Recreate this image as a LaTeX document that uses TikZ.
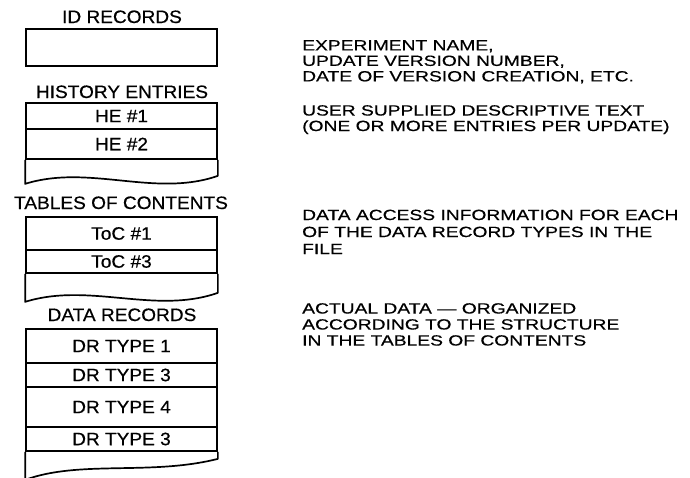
\documentclass[tikz,border=0pt]{standalone}
\usepackage{fontspec}
\setmainfont{Liberation Sans}
\newfontfamily\leftfont[FakeStretch=1.06,FakeBold=0.5]{Liberation Sans}
\newfontfamily\rightfont[FakeStretch=1.3,FakeBold=0.5]{Liberation Sans}
\usetikzlibrary{calc}
\begin{document}
\begin{tikzpicture}[x=1pt,y=-1pt,
  frame/.style={draw, line width=1.7pt, minimum width=191pt, inner sep=0pt,
    font=\leftfont\fontsize{18}{20}\selectfont},
  tail/.style={draw, line width=1.7pt, line join=round},
  title/.style={inner sep=0pt, anchor=base, font=\leftfont\fontsize{18}{20}\selectfont},
  desc/.style={inner sep=0pt, anchor=north west, align=left,
    font=\rightfont\fontsize{14.8}{15.5}\selectfont}]
\useasboundingbox (0,0) rectangle (690,477);

% ID records
\node[title] (tid) at (122,23) {ID RECORDS};
\node[frame, minimum height=37pt] (idrec) at (121.5,47.5) {};

% History entries
\node[title] (the) at (122,98) {HISTORY ENTRIES};
\node[frame, minimum height=26pt] (he1) at (121.5,116) {HE \#1};
\node[frame, minimum height=30pt] (he2) at (121.5,144) {HE \#2};
\path[tail] (he2.south west) -- ++(0,24)
  .. controls +(64,-20) and +(-63,22) .. ($(he2.south east)+(0,16)$)
  -- (he2.south east);

% Tables of contents
\node[title] (ttoc) at (121,209) {TABLES OF CONTENTS};
\node[frame, minimum height=33pt] (toc1) at (121.5,233.5) {ToC \#1};
\node[frame, minimum height=23pt] (toc3) at (121.5,261.5) {ToC \#3};
\path[tail] (toc3.south west) -- ++(0,28)
  .. controls +(64,-20) and +(-63,22) .. ($(toc3.south east)+(0,19)$)
  -- (toc3.south east);

% Data records
\node[title] (tdr) at (122,321) {DATA RECORDS};
\node[frame, minimum height=34pt] (dr1) at (121.5,346) {DR TYPE 1};
\node[frame, minimum height=24pt] (dr3a) at (121.5,375) {DR TYPE 3};
\node[frame, minimum height=40pt] (dr4) at (121.5,407) {DR TYPE 4};
\node[frame, minimum height=24pt] (dr3b) at (121.5,439) {DR TYPE 3};
\path[tail] (dr3b.south west) -- ++(0,28)
  .. controls +(54,-20) and +(-67,17) .. ($(dr3b.south east)+(0,7)$)
  -- (dr3b.south east);

% Descriptions
\node[desc] (d1) at (302,40) {EXPERIMENT NAME,\\UPDATE VERSION NUMBER,\\DATE OF VERSION CREATION, ETC.};
\node[desc] (d2) at (302,105) {USER SUPPLIED DESCRIPTIVE TEXT\\(ONE OR MORE ENTRIES PER UPDATE)};
\node[desc, font=\rightfont\fontsize{14.8}{17}\selectfont] (d3) at (302,209.5) {DATA ACCESS INFORMATION FOR EACH\\OF THE DATA RECORD TYPES IN THE\\FILE};
\node[desc, font=\rightfont\fontsize{14.8}{16}\selectfont] (d4) at (302,303) {ACTUAL DATA — ORGANIZED\\ACCORDING TO THE STRUCTURE\\IN THE TABLES OF CONTENTS};
\end{tikzpicture}
\end{document}
